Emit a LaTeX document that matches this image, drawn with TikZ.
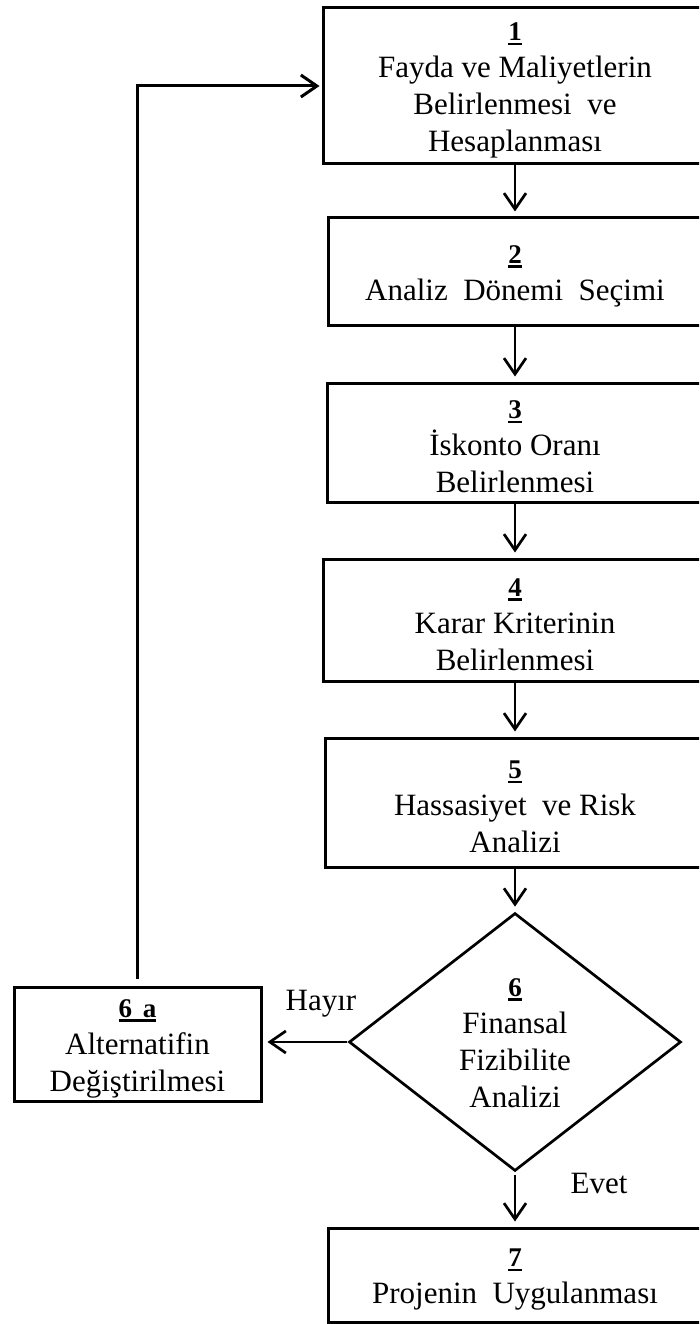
\documentclass[tikz,border=0pt]{standalone}
\usepackage{fontspec}
\setmainfont{Liberation Serif}
\usetikzlibrary{arrows.meta,shapes.geometric}

% bold, underlined step number set a size smaller than the body text
\newcommand{\stepno}[1]{\rule{0pt}{27pt}{\fontsize{27}{37}\selectfont\bfseries
  \setbox0=\hbox{#1}\rlap{\rule[-4.5pt]{\wd0}{2.4pt}}\box0}}
\newcommand{\wsp}{\hspace{0.5em}}

\tikzset{
  txt/.style={font=\fontsize{31}{37}\selectfont, align=center, text=black},
  stepbox/.style={txt, draw=black, line width=3pt, inner sep=0pt},
  decision/.style={txt, draw=black, line width=2.7pt, diamond, inner sep=0pt,
    minimum width=332pt, minimum height=239pt},
  flow/.style={draw=black, line width=2.7pt,
    -{Straight Barb[length=16pt,width=22pt]}, shorten >=5pt},
  lbl/.style={txt, anchor=base, inner sep=0pt},
}

\begin{document}
\begin{tikzpicture}[x=1pt,y=-1pt]
  \useasboundingbox (0,0) rectangle (699,1324);
  \clip (0,0) rectangle (699,1324);

  % main column of steps
  \node[stepbox, minimum width=384pt, minimum height=156pt] (b1) at (515,86)
    {\stepno{1}\\Fayda ve Maliyetlerin\\Belirlenmesi\wsp ve\\Hesaplanması};
  \node[stepbox, minimum width=374pt, minimum height=107pt] (b2) at (515,271.5)
    {\stepno{2}\\Analiz\wsp Dönemi\wsp Seçimi};
  \node[stepbox, minimum width=376pt, minimum height=119pt] (b3) at (515,442.5)
    {\stepno{3}\\İskonto Oranı\\Belirlenmesi};
  \node[stepbox, minimum width=384pt, minimum height=122pt] (b4) at (515,620)
    {\stepno{4}\\Karar Kriterinin\\Belirlenmesi};
  \node[stepbox, minimum width=380pt, minimum height=129pt] (b5) at (515,802.5)
    {\stepno{5}\\Hassasiyet\wsp ve Risk\\Analizi};

  % decision
  \node[decision] (d6) at (515,1042)
    {\stepno{6}\\Finansal\\Fizibilite\\Analizi\rule[-8pt]{0pt}{8pt}};

  % side branch and final step
  \node[stepbox, minimum width=247pt, minimum height=114pt] (b6a) at (137.5,1044)
    {\stepno{6\hspace{0.4em}a}\\Alternatifin\\Değiştirilmesi};
  \node[stepbox, minimum width=374pt, minimum height=94pt] (b7) at (515,1275)
    {\stepno{7}\\Projenin\wsp Uygulanması};

  % branch labels
  \node[lbl] (hayir) at (321,1010) {Hayır};
  \node[lbl] (evet) at (599,1193) {Evet};

  % connectors
  \draw[flow] (b1.south) -- (b2.north);
  \draw[flow] (b2.south) -- (b3.north);
  \draw[flow] (b3.south) -- (b4.north);
  \draw[flow] (b4.south) -- (b5.north);
  \draw[flow] (b5.south) -- (d6.north);
  \draw[flow, shorten <=1pt] (d6.west) -- (d6.west -| b6a.east);
  \draw[flow, shorten <=3pt] (d6.south) -- (b7.north);
  \draw[flow, line width=3pt, shorten <=7pt, shorten >=2pt]
    (b6a.north) |- (b1.west);
\end{tikzpicture}
\end{document}
